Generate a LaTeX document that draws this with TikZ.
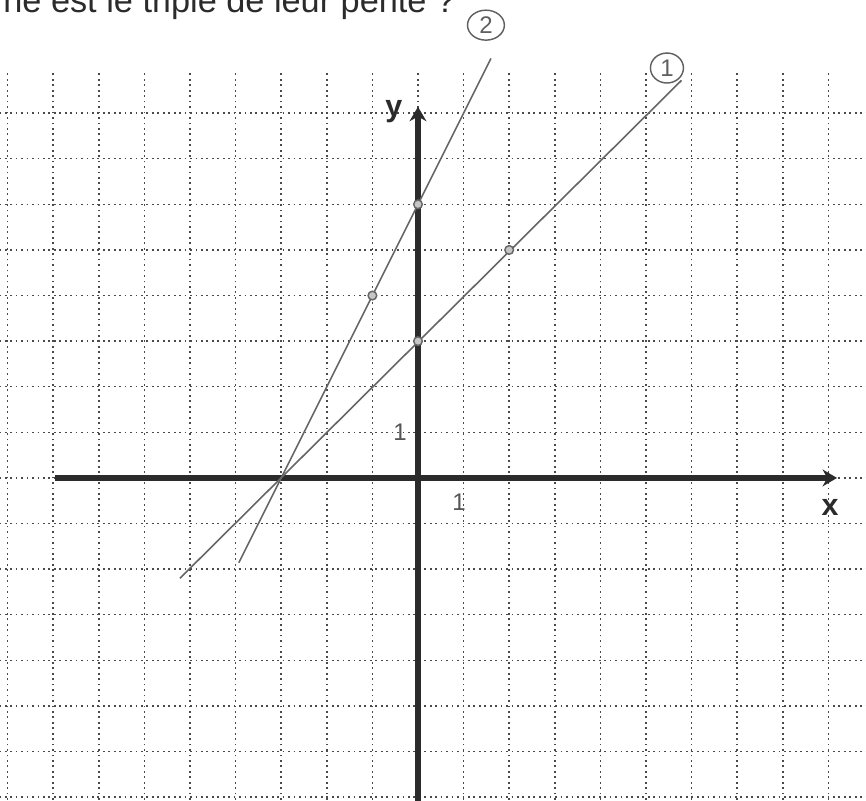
\documentclass[tikz,border=0pt]{standalone}
\usepackage{fontspec}
\setmainfont{Liberation Sans}
\usetikzlibrary{shapes.geometric,arrows.meta}
\definecolor{ink}{HTML}{2B2B2B}
\definecolor{gridc}{HTML}{4A4A4A}
\definecolor{linec}{HTML}{666666}
\begin{document}
\begin{tikzpicture}[x=1cm,y=1cm,
  gridline/.style={draw=gridc,line width=0.9pt,dash pattern=on 1.1pt off 2.3pt},
  axis/.style={draw=ink,line width=3.4pt,-{Stealth[length=9pt,width=10.5pt]}},
  graph/.style={draw=linec,line width=1pt},
  pt/.style={circle,inner sep=0pt,minimum size=5.4pt,draw=linec,fill=gray!45,line width=0.9pt},
  axlabel/.style={font=\fontsize{19}{20}\selectfont\bfseries,text=ink,inner sep=0pt},
  ticklab/.style={font=\fontsize{15}{16}\selectfont,text=ink!80,inner sep=0pt},
  circ/.style={ellipse,draw=ink!75,line width=0.9pt,inner sep=0pt,text=ink!75,font=\fontsize{15}{16}\selectfont}
]
\useasboundingbox (-9.167,-7.083) rectangle (9.825,10.482);
\clip (-9.167,-7.083) rectangle (9.825,10.482);
% grid
\foreach \i in {-9,...,9} \draw[gridline] (\i,-7.3) -- (\i,8.88);
\foreach \j in {-7,...,8} \draw[gridline] (-9.3,\j) -- (10,\j);
% axes
\coordinate (xs) at (-7.96,0);
\coordinate (xe) at (9.19,0);
\coordinate (ys) at (0,-7.3);
\coordinate (ye) at (0,8.14);
\draw[axis] (xs) -- (xe);
\draw[axis] (ys) -- (ye);
% lines
\coordinate (a1) at (-5.22,-2.2);
\coordinate (b1) at (5.78,8.72);
\coordinate (a2) at (-3.93,-1.86);
\coordinate (b2) at (1.6,9.2);
\draw[graph] (a1) -- (b1);
\draw[graph] (a2) -- (b2);
% points
\node[pt] (p1) at (0,3) {};
\node[pt] (p2) at (2,5) {};
\node[pt] (p3) at (-1,4) {};
\node[pt] (p4) at (0,6) {};
% labels
\node[axlabel] (ylab) at (-0.53,8.03) {y};
\node[axlabel] (xlab) at (9.04,-0.64) {x};
\node[ticklab] (t1) at (-0.395,1.0) {1};
\node[ticklab] (t2) at (0.9,-0.53) {1};
\node[circ,minimum width=23pt,minimum height=18.7pt] (c2) at (1.49,9.93) {2};
\node[circ,minimum width=20.6pt,minimum height=18.7pt] (c1) at (5.46,8.99) {1};
% title (cut off at the top, as in the scan)
\node[anchor=base west,inner sep=0pt,text=ink,font=\fontsize{21.4}{24}\selectfont] (title) at (-9.1,10.197) {ne est le triple de leur pente ?};
\end{tikzpicture}
\end{document}
